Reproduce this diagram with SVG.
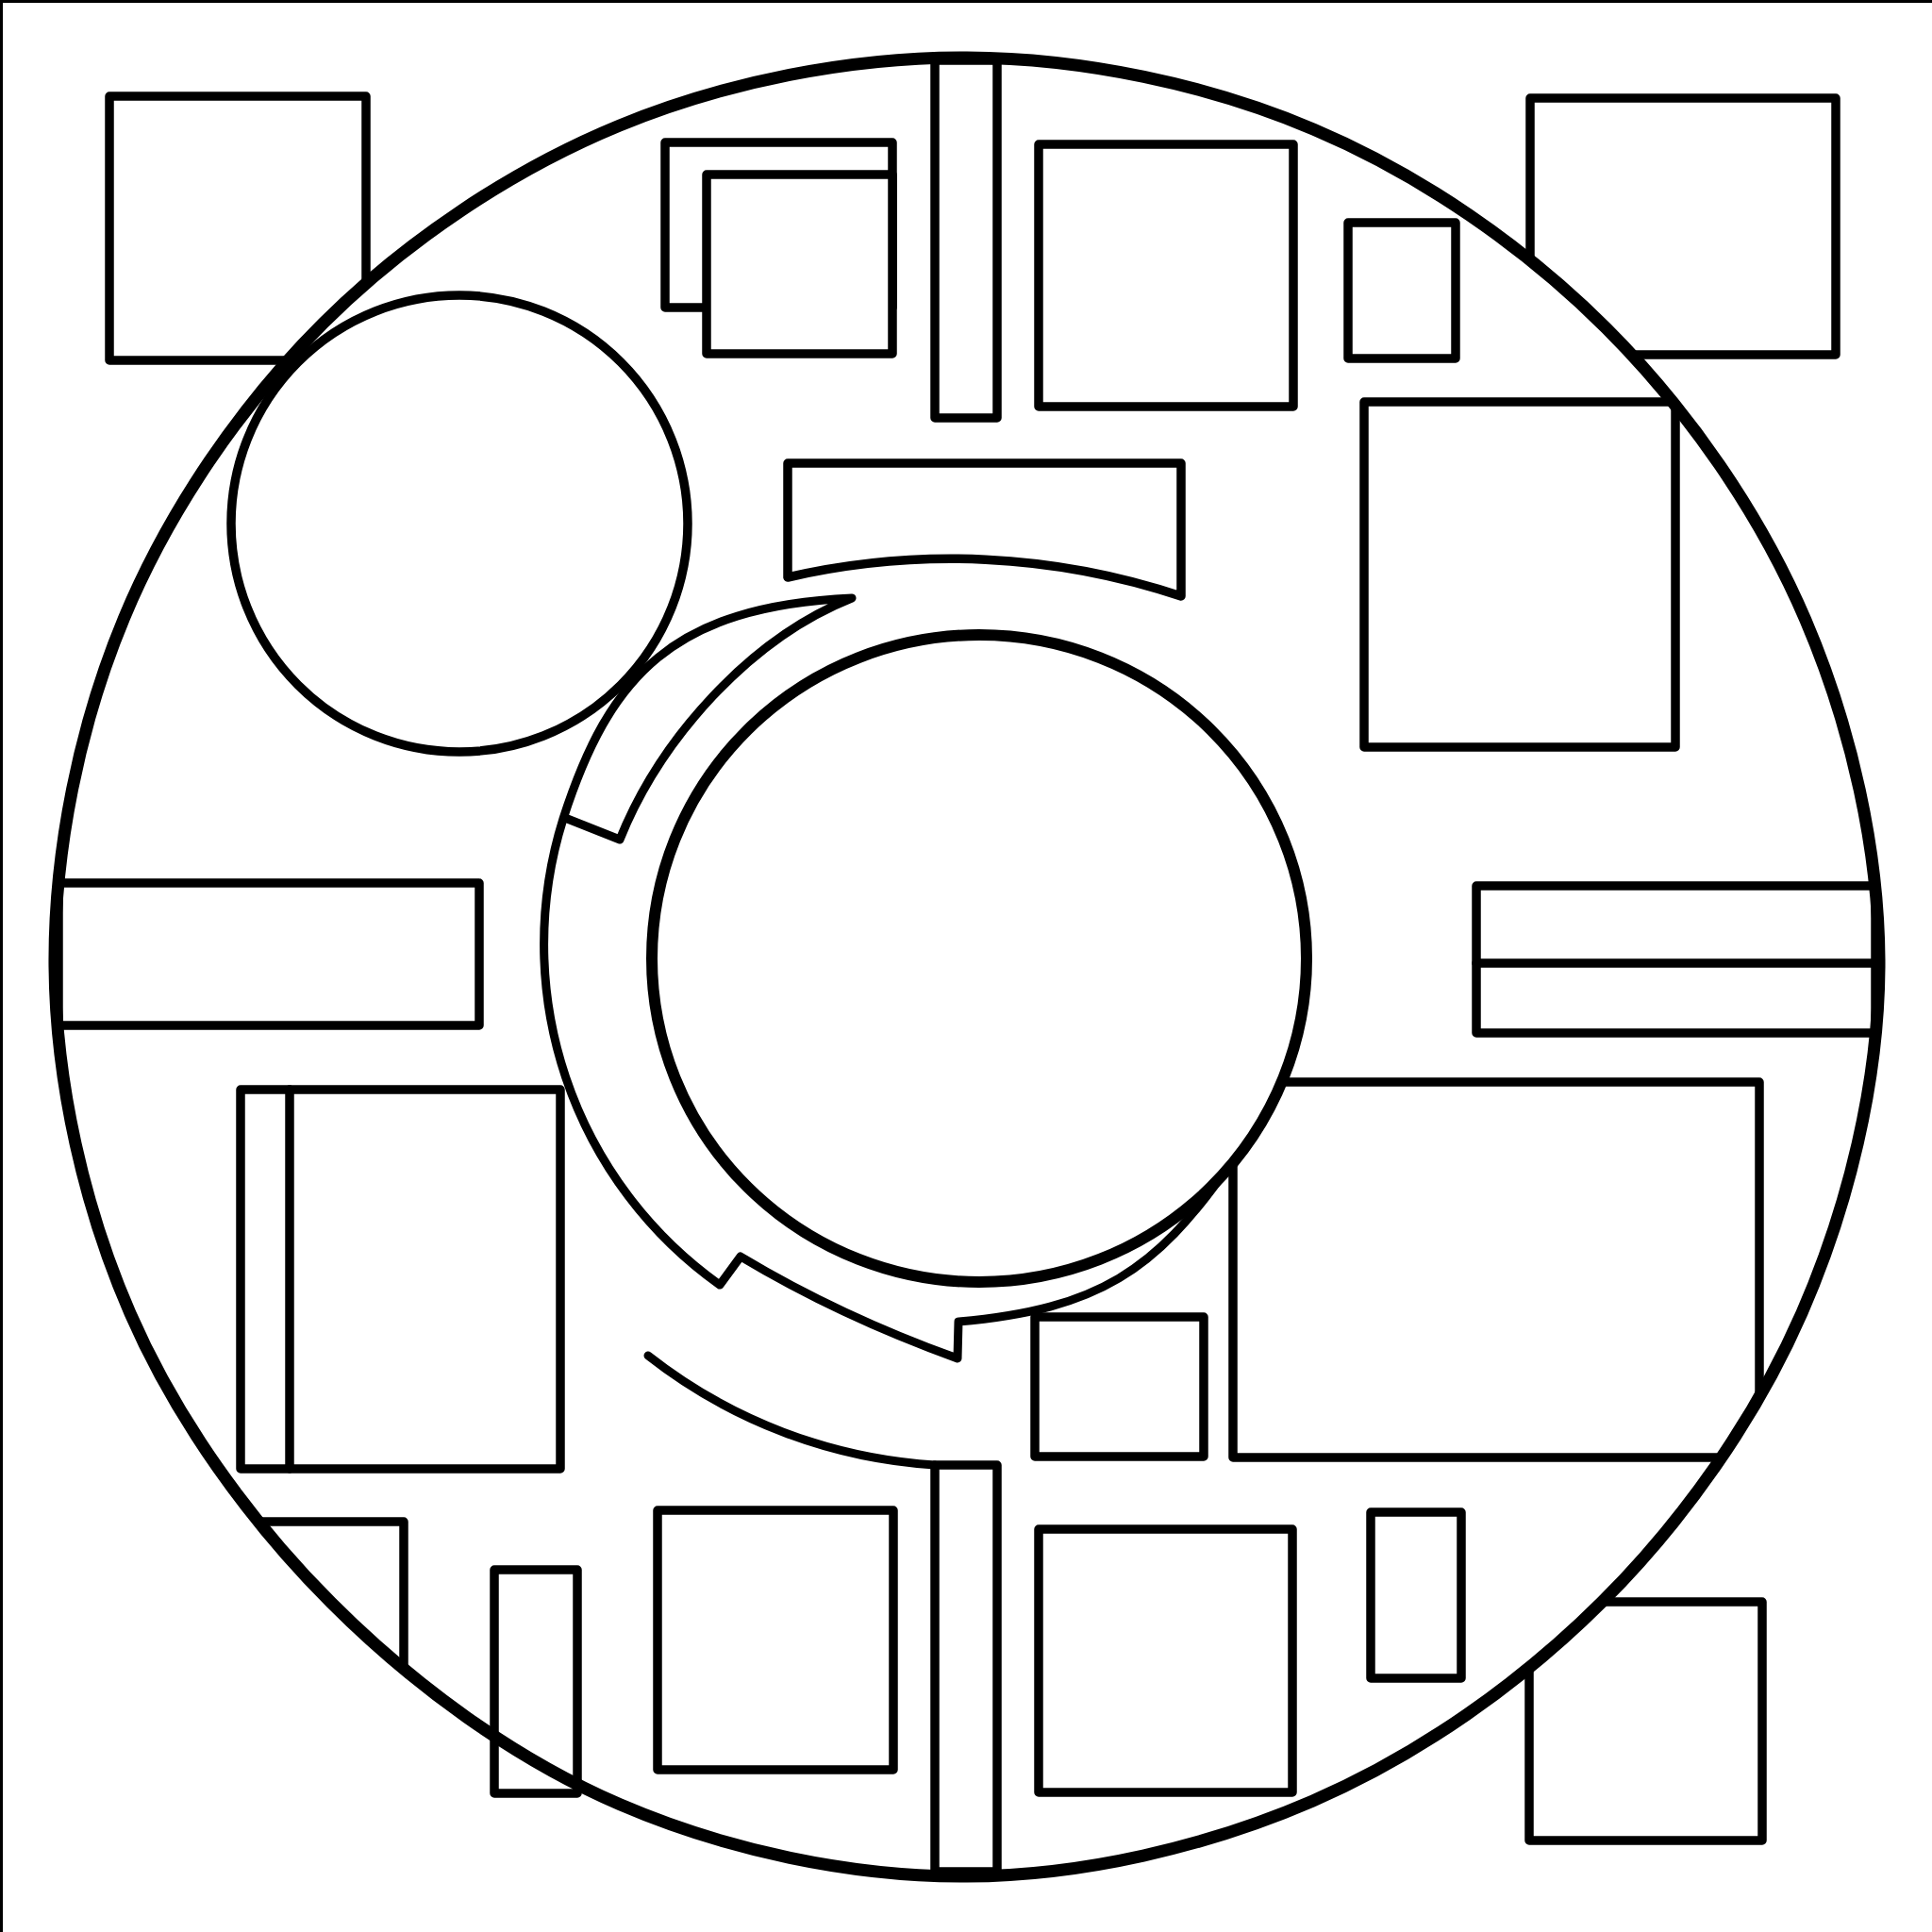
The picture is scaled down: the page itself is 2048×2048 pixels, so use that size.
<svg xmlns="http://www.w3.org/2000/svg" width="2048" height="2048" viewBox="0 0 2048 2048">
<style>
.s{fill:none;stroke:#000;stroke-width:9.5;stroke-linejoin:round;stroke-linecap:round}
.w{fill:#fff;stroke:#000;stroke-width:9.5;stroke-linejoin:round}
.big{fill:#fff;stroke:#000;stroke-width:13}
.inner{fill:#fff;stroke:#000;stroke-width:12}
.c{fill:none;stroke:#000;stroke-width:9;stroke-linejoin:round;stroke-linecap:round}
</style>
<defs>
<path id="ringPath" d="M1992 1025C1991.4 1147.45 1959.1 1279.4 1910.1 1391.6C1861.1 1503.8 1784.7 1611.9 1698.2 1698.2C1611.7 1784.5 1503.4 1860.7 1391.2 1909.2C1279 1957.7 1147.3 1988.4 1025 1989C902.7 1989.6 769.5 1961.2 657.2 1912.8C544.9 1864.4 437.6 1785.6 351.1 1698.9C264.6 1612.2 187 1504.7 138.1 1392.4C89.2 1280.1 59.1 1147.9 58 1025C56.9 902.1 84.2 768.6 131.6 654.9C179 541.2 255.2 429.5 342.6 342.6C430 255.7 542 180.4 655.7 133.5C769.4 86.6 902.1 60.4 1025 61C1147.9 61.6 1279.9 89.4 1392.8 137.2C1505.7 185 1615.6 261 1702.4 347.6C1789.2 434.2 1865.5 544 1913.8 656.9C1962.1 769.8 1992.6 902.55 1992 1025Z"/>
<clipPath id="inC"><use href="#ringPath"/></clipPath>
</defs>
<rect width="2048" height="2048" fill="#fff"/>
<path id="frame" d="M1.5 2048V1.5H2048" fill="none" stroke="#000" stroke-width="3"/>
<g id="corner-nodes">
<rect id="n-tl" class="s" x="116" y="102" width="272" height="280"/>
<rect id="n-tr" class="s" x="1622" y="104" width="324" height="272"/>
<rect id="n-br" class="s" x="1621" y="1698" width="247" height="253"/>
</g>
<g id="n-ring"><use href="#ringPath" class="big"/></g>
<g id="n-nest"><rect class="s" x="705" y="151" width="241" height="175"/><rect class="w" x="749" y="185" width="197" height="190"/></g>
<g id="n-topbar"><rect class="s" x="991" y="64" width="66" height="379"/></g>
<g id="n-a"><rect class="s" x="1101" y="153" width="270" height="278"/></g>
<g id="n-small"><rect class="s" x="1429" y="236" width="114" height="144"/></g>
<g id="n-r" clip-path="url(#inC)"><rect class="s" x="1446" y="426" width="330" height="366"/></g>
<g id="n-topcenter"><path class="s" d="M835 491H1252V632A770 770 0 0 0 835 612Z"/></g>
<g id="n-leftcircle"><circle class="s" cx="487" cy="555" r="242"/></g>
<g id="n-leftbar"><rect class="s" x="62" y="936" width="446" height="151"/></g>
<g id="n-rightbar"><rect class="s" x="1565" y="939" width="423" height="156"/><path class="s" d="M1565 1021H1988"/></g>
<g id="n-lefttall"><rect class="s" x="255" y="1155" width="339" height="402"/><path class="s" d="M307 1155V1557"/></g>
<g id="n-bigrect" clip-path="url(#inC)"><rect class="s" x="1307" y="1147" width="558" height="398"/></g>
<g id="n-smallrect"><rect class="s" x="1097" y="1396" width="179" height="148"/></g>
<g id="n-blclip" clip-path="url(#inC)"><rect class="s" x="150" y="1613" width="278" height="400"/></g>
<g id="n-narrowl"><rect class="s" x="524" y="1664" width="88" height="237"/></g>
<g id="n-bc"><rect class="s" x="697" y="1601" width="250" height="275"/></g>
<g id="n-botbar"><rect class="s" x="991" y="1553" width="66" height="431"/></g>
<g id="n-br2"><rect class="s" x="1101" y="1621" width="269" height="279"/></g>
<g id="n-narrowr"><rect class="s" x="1453" y="1603" width="96" height="176"/></g>
<g id="n-center"><ellipse class="inner" cx="1038" cy="1016" rx="347" ry="343"/></g>
<g id="connectors">
<path class="c" d="M599 867L657 890C700 783 795 677 903 634C713 643 646 716 597 868A443 443 0 0 0 763 1362L785 1332Q890 1395 1015 1440L1016 1401C1166 1388 1225 1345 1300 1240"/>
<path class="c" d="M687 1437A548 548 0 0 0 991 1553"/>
</g>
</svg>
